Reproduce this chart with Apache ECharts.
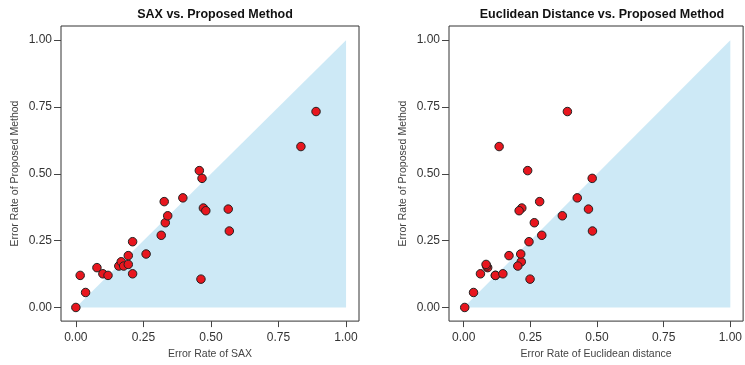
<!DOCTYPE html>
<html>
<head>
<meta charset="utf-8">
<script src="https://cdn.jsdelivr.net/npm/echarts@6/dist/echarts.min.js"></script>
<style>
  html, body { margin: 0; padding: 0; background: #fff; }
  #main { width: 745px; height: 365px; }
</style>
</head>
<body>
<div id="main"></div>
<script>
// error rate of the proposed method (shared y values)
const proposed = [0.0, 0.12, 0.056, 0.149, 0.126, 0.12, 0.155, 0.171, 0.155, 0.161,
  0.194, 0.246, 0.126, 0.2, 0.27, 0.396, 0.317, 0.343, 0.41, 0.512,
  0.483, 0.106, 0.372, 0.362, 0.368, 0.286, 0.602, 0.733]
// error rate of SAX (left panel x)
const sax = [0.0, 0.016, 0.036, 0.078, 0.1, 0.119, 0.159, 0.168, 0.177, 0.194,
  0.194, 0.21, 0.21, 0.26, 0.316, 0.327, 0.331, 0.34, 0.396, 0.457,
  0.467, 0.463, 0.472, 0.481, 0.564, 0.568, 0.833, 0.889]
// error rate of Euclidean distance (right panel x)
const euclid = [0.004, 0.119, 0.037, 0.09, 0.063, 0.119, 0.086, 0.216, 0.203, 0.084,
  0.17, 0.245, 0.147, 0.214, 0.293, 0.285, 0.265, 0.37, 0.426, 0.24,
  0.482, 0.249, 0.218, 0.208, 0.468, 0.483, 0.133, 0.389]
const diagonal = [[0, 0], [1, 1]]
const ticks = [0, 0.25, 0.5, 0.75, 1]
const titles = ['SAX vs. Proposed Method', 'Euclidean Distance vs. Proposed Method']
const xNames = ['Error Rate of SAX', 'Error Rate of Euclidean distance']
const yName = 'Error Rate of Proposed Method'

const font = 'Liberation Sans, Arial, sans-serif'

function xAxis(i) {
  return {
    type: 'value',
    gridIndex: i,
    min: -0.055,
    max: 1.048,
    name: xNames[i],
    nameLocation: 'middle',
    nameGap: 27,
    nameTextStyle: { fontFamily: font, fontSize: 10.5, color: '#444' },
    splitLine: { show: false },
    axisLine: { show: false, onZero: false },
    axisTick: { show: true, length: 6, customValues: ticks, lineStyle: { color: '#444' } },
    axisLabel: {
      customValues: ticks,
      margin: 11,
      fontFamily: font,
      fontSize: 12,
      color: '#333',
      formatter: v => v.toFixed(2)
    }
  }
}

function yAxis(i) {
  return {
    type: 'value',
    gridIndex: i,
    min: -0.051,
    max: 1.053,
    name: yName,
    nameLocation: 'middle',
    nameGap: 40,
    nameTextStyle: { fontFamily: font, fontSize: 10.5, color: '#444' },
    splitLine: { show: false },
    axisLine: { show: false, onZero: false },
    axisTick: { show: true, length: 7, customValues: ticks, lineStyle: { color: '#444' } },
    axisLabel: {
      customValues: ticks,
      margin: 9,
      fontFamily: font,
      fontSize: 12,
      color: '#333',
      formatter: v => v.toFixed(2)
    }
  }
}

function areaSeries(i) {
  return {
    type: 'line',
    xAxisIndex: i,
    yAxisIndex: i,
    data: diagonal,
    symbol: 'none',
    silent: true,
    lineStyle: { width: 0 },
    areaStyle: { color: '#cde9f6', opacity: 1, origin: 0 },
    z: 1
  }
}

function pointSeries(i, xs) {
  return {
    type: 'scatter',
    xAxisIndex: i,
    yAxisIndex: i,
    data: xs.map((x, k) => [x, proposed[k]]),
    symbol: 'circle',
    symbolSize: 8.5,
    itemStyle: { color: '#e8161e', borderColor: '#222', borderWidth: 1, opacity: 1 },
    z: 3
  }
}

const chart = echarts.init(document.getElementById('main'), null, { renderer: 'canvas' })
chart.setOption({
  animation: false,
  backgroundColor: '#fff',
  title: [
    { text: titles[0], left: 210, top: 3, textAlign: 'center',
      textStyle: { fontFamily: font, fontSize: 12.5, fontWeight: 'bold', color: '#111' } },
    { text: titles[1], left: 597, top: 3, textAlign: 'center',
      textStyle: { fontFamily: font, fontSize: 12.5, fontWeight: 'bold', color: '#111' } }
  ],
  grid: [
    { left: 61, top: 26, width: 298, height: 297, show: true, borderColor: '#333', borderWidth: 1, backgroundColor: 'transparent' },
    { left: 449, top: 26, width: 298, height: 297, show: true, borderColor: '#333', borderWidth: 1, backgroundColor: 'transparent' }
  ],
  xAxis: [xAxis(0), xAxis(1)],
  yAxis: [yAxis(0), yAxis(1)],
  series: [areaSeries(0), pointSeries(0, sax), areaSeries(1), pointSeries(1, euclid)]
})
</script>
</body>
</html>
